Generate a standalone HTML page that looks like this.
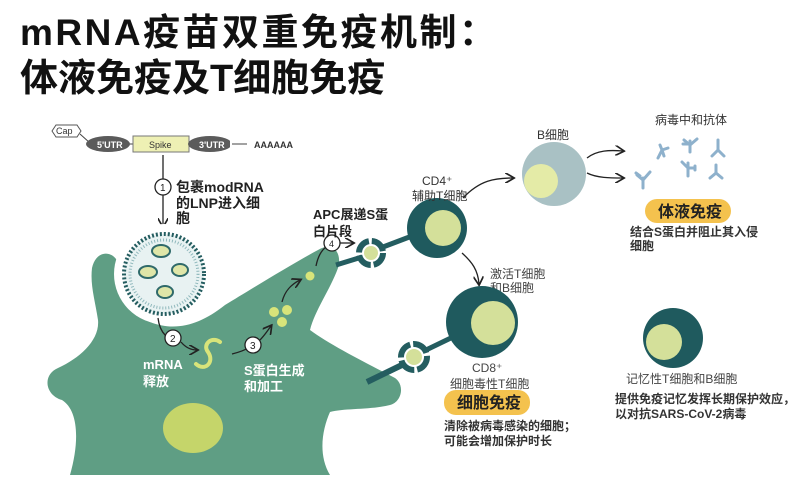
<!DOCTYPE html>
<html><head><meta charset="utf-8"><style>
html,body{margin:0;padding:0;background:#fff;}
svg{display:block;}
.t{font-family:"Liberation Sans","Noto Sans CJK SC",sans-serif;}
</style></head><body>
<svg width="800" height="480" viewBox="0 0 800 480" xmlns="http://www.w3.org/2000/svg" class="t">
<defs>
<marker id="ah" markerWidth="8" markerHeight="8" refX="6" refY="4" orient="auto"><path d="M0,0 L7,4 L0,8" fill="none" stroke="#222" stroke-width="1.3"/></marker>
</defs>
<text x="20" y="45" font-size="37" font-weight="bold" fill="#111" letter-spacing="2.5">mRNA疫苗双重免疫机制：</text>
<text x="20" y="91" font-size="38" font-weight="bold" fill="#111">体液免疫及T细胞免疫</text>

<!-- gene construct -->
<path d="M52,131 L56,125 L77,125 L81,131 L77,137 L56,137 Z" fill="#fff" stroke="#555"/>
<text x="56" y="134" font-size="9" fill="#333">Cap</text>
<line x1="80" y1="134" x2="90" y2="143" stroke="#444"/>
<line x1="128" y1="144" x2="255" y2="144" stroke="#444"/>
<ellipse cx="108" cy="144" rx="22" ry="8" fill="#5b5b5b"/>
<text x="97" y="148" font-size="9" font-weight="bold" fill="#fff">5'UTR</text>
<rect x="133" y="136" width="56" height="16" fill="#eef0b4" stroke="#777"/>
<text x="149" y="148" font-size="9" fill="#333">Spike</text>
<ellipse cx="210" cy="144" rx="22" ry="8" fill="#5b5b5b"/>
<text x="199" y="148" font-size="9" font-weight="bold" fill="#fff">3'UTR</text>
<rect x="230" y="138" width="25" height="12" fill="#fff"/>
<line x1="232" y1="144" x2="247" y2="144" stroke="#444"/>
<text x="254" y="148" font-size="9" font-weight="bold" fill="#333">AAAAAA</text>

<line x1="163" y1="155" x2="163" y2="226" stroke="#222" stroke-width="1.3" marker-end="url(#ah)"/>
<circle cx="163" cy="187" r="8" fill="#fff" stroke="#222" stroke-width="1.3"/>
<text x="160" y="191" font-size="10" fill="#222">1</text>
<text x="176" y="192" font-size="14" font-weight="bold" fill="#222">包裹modRNA</text>
<text x="176" y="208" font-size="14" font-weight="bold" fill="#222">的LNP进入细</text>
<text x="176" y="223" font-size="14" font-weight="bold" fill="#222">胞</text>

<!-- cell -->
<path d="M92,268 C96,250 112,250 118,262 C125,290 128,310 150,322 C175,332 200,325 225,305 C250,290 290,265 318,250 C335,240 342,255 338,268 C330,290 315,310 310,330 C330,345 370,365 395,378 C405,385 402,402 390,405 C370,410 345,408 330,412 C322,430 318,455 330,475 L70,475 C80,440 78,410 62,400 C45,395 42,375 58,368 C80,358 100,340 98,320 C95,300 90,285 92,268 Z" fill="#5f9e84"/>
<circle cx="164" cy="274" r="50" fill="#fff"/>
<ellipse cx="193" cy="428" rx="30" ry="25" fill="#c5d56a"/>

<!-- LNP -->
<circle cx="164" cy="274" r="40" fill="#e8f2f2" stroke="#245d60" stroke-width="4" stroke-dasharray="2 2"/>
<circle cx="164" cy="274" r="34" fill="none" stroke="#8fb8bc" stroke-width="3" stroke-dasharray="1 2"/>
<ellipse cx="161" cy="251" rx="9" ry="6" fill="#dfe6a8" stroke="#2f6a6a" stroke-width="2"/>
<ellipse cx="148" cy="272" rx="9" ry="6" fill="#dfe6a8" stroke="#2f6a6a" stroke-width="2"/>
<ellipse cx="180" cy="270" rx="8" ry="6" fill="#dfe6a8" stroke="#2f6a6a" stroke-width="2"/>
<ellipse cx="165" cy="292" rx="8" ry="6" fill="#dfe6a8" stroke="#2f6a6a" stroke-width="2"/>

<!-- step 2 -->
<path d="M158,318 C160,335 170,340 175,340" fill="none" stroke="#222" stroke-width="1.3"/>
<circle cx="173" cy="338" r="8" fill="#fff" stroke="#222" stroke-width="1.3"/>
<text x="170" y="342" font-size="10" fill="#222">2</text>
<path d="M181,342 C186,348 192,350 197,350" fill="none" stroke="#222" stroke-width="1.3" marker-end="url(#ah)"/>
<text x="143" y="369" font-size="13" font-weight="bold" fill="#fff">mRNA</text>
<text x="143" y="386" font-size="13" font-weight="bold" fill="#fff">释放</text>
<path d="M196,364 C205,372 215,362 208,352 C202,344 212,336 220,342" fill="none" stroke="#d8e47a" stroke-width="4" stroke-linecap="round"/>
<!-- step 3 -->
<path d="M232,354 C240,352 245,350 248,348" fill="none" stroke="#222" stroke-width="1.3"/>
<circle cx="253" cy="345" r="8" fill="#fff" stroke="#222" stroke-width="1.3"/>
<text x="250" y="349" font-size="10" fill="#222">3</text>
<path d="M260,340 C265,335 268,330 271,326" fill="none" stroke="#222" stroke-width="1.3" marker-end="url(#ah)"/>
<text x="244" y="375" font-size="13" font-weight="bold" fill="#fff">S蛋白生成</text>
<text x="244" y="391" font-size="13" font-weight="bold" fill="#fff">和加工</text>
<circle cx="274" cy="312" r="5" fill="#d8e47a"/>
<circle cx="287" cy="310" r="5" fill="#d8e47a"/>
<circle cx="282" cy="322" r="5" fill="#d8e47a"/>
<path d="M282,302 C285,290 292,284 300,280" fill="none" stroke="#222" stroke-width="1.3" marker-end="url(#ah)"/>
<circle cx="310" cy="276" r="4.5" fill="#d8e47a"/>
<path d="M316,266 C318,256 322,250 326,247" fill="none" stroke="#222" stroke-width="1.3"/>
<circle cx="332" cy="243" r="8" fill="#fff" stroke="#222" stroke-width="1.3"/>
<text x="329" y="247" font-size="9" fill="#222">4</text>
<line x1="340" y1="243" x2="353" y2="243" stroke="#222" stroke-width="1.3" marker-end="url(#ah)"/>
<text x="313" y="219" font-size="13" font-weight="bold" fill="#222">APC展递S蛋</text>
<text x="313" y="236" font-size="13" font-weight="bold" fill="#222">白片段</text>

<!-- upper receptor & CD4 -->
<line x1="336" y1="265" x2="362" y2="257" stroke="#245d60" stroke-width="5"/>
<circle cx="371" cy="253" r="12" fill="none" stroke="#245d60" stroke-width="6" stroke-dasharray="16 3"/>
<circle cx="371" cy="253" r="7" fill="#d4e09a"/>
<line x1="383" y1="247" x2="412" y2="236" stroke="#245d60" stroke-width="5"/>
<circle cx="437" cy="228" r="30" fill="#1f5a5e"/>
<circle cx="443" cy="228" r="18" fill="#d4e09a"/>
<text x="422" y="185" font-size="12" fill="#333">CD4⁺</text>
<text x="412" y="200" font-size="12" fill="#333">辅助T细胞</text>

<!-- B cell -->
<path d="M463,198 C480,180 495,178 513,178" fill="none" stroke="#222" stroke-width="1.3" marker-end="url(#ah)"/>
<circle cx="554" cy="174" r="32" fill="#a9c1c4"/>
<circle cx="541" cy="181" r="17" fill="#e4eba7"/>
<text x="537" y="139" font-size="12" fill="#333">B细胞</text>
<path d="M587,158 C597,150 610,150 623,151" fill="none" stroke="#222" stroke-width="1.3" marker-end="url(#ah)"/>
<path d="M587,173 C597,178 610,178 623,178" fill="none" stroke="#222" stroke-width="1.3" marker-end="url(#ah)"/>
<text x="655" y="124" font-size="12" fill="#333">病毒中和抗体</text>
<g stroke="#8eb1cc" stroke-width="3" fill="none" stroke-linecap="round">
<path d="M660,145 L662,150 L658,158 M662,150 L668,148 M662,150 L664,156"/>
<path d="M690,141 L690,152 M690,145 L684,140 M690,145 L697,139 M683,144 L689,144"/>
<path d="M718,140 L718,150 L712,156 M718,150 L724,156"/>
<path d="M643,178 L643,188 M643,180 L637,175 M643,180 L650,172 M636,173 L640,176"/>
<path d="M688,163 L688,176 M688,168 L682,162 M688,168 L695,168 M695,166 L695,170"/>
<path d="M716,165 L716,173 L710,178 M716,173 L722,178"/>
</g>
<rect x="645" y="199" width="86" height="24" rx="12" fill="#f4c24e"/>
<text x="658" y="217" font-size="16" font-weight="bold" fill="#222">体液免疫</text>
<text x="630" y="236" font-size="12" font-weight="bold" fill="#333">结合S蛋白并阻止其入侵</text>
<text x="630" y="250" font-size="12" font-weight="bold" fill="#333">细胞</text>

<!-- CD8 -->
<path d="M462,253 C472,262 478,270 479,284" fill="none" stroke="#222" stroke-width="1.3" marker-end="url(#ah)"/>
<text x="490" y="278" font-size="12" fill="#444">激活T细胞</text>
<text x="490" y="292" font-size="12" fill="#444">和B细胞</text>
<line x1="367" y1="382" x2="404" y2="364" stroke="#245d60" stroke-width="6"/>
<circle cx="414" cy="357" r="13" fill="none" stroke="#245d60" stroke-width="6" stroke-dasharray="17 3"/>
<circle cx="414" cy="357" r="8" fill="#d4e09a"/>
<line x1="426" y1="350" x2="455" y2="336" stroke="#245d60" stroke-width="5"/>
<circle cx="482" cy="322" r="36" fill="#1f5a5e"/>
<circle cx="493" cy="323" r="22" fill="#d4e09a"/>
<text x="472" y="372" font-size="12" fill="#444">CD8⁺</text>
<text x="450" y="388" font-size="12" fill="#444">细胞毒性T细胞</text>
<rect x="444" y="390" width="86" height="25" rx="12" fill="#f4c24e"/>
<text x="457" y="408" font-size="16" font-weight="bold" fill="#222">细胞免疫</text>
<text x="444" y="430" font-size="12" font-weight="bold" fill="#333">清除被病毒感染的细胞；</text>
<text x="444" y="445" font-size="12" font-weight="bold" fill="#333">可能会增加保护时长</text>

<!-- memory -->
<circle cx="673" cy="338" r="30" fill="#1f5a5e"/>
<circle cx="664" cy="342" r="18" fill="#d4e09a"/>
<text x="626" y="383" font-size="12" fill="#444">记忆性T细胞和B细胞</text>
<text x="615" y="403" font-size="12" font-weight="bold" fill="#333">提供免疫记忆发挥长期保护效应，</text>
<text x="615" y="418" font-size="12" font-weight="bold" fill="#333">以对抗SARS-CoV-2病毒</text>
</svg>
</body></html>
